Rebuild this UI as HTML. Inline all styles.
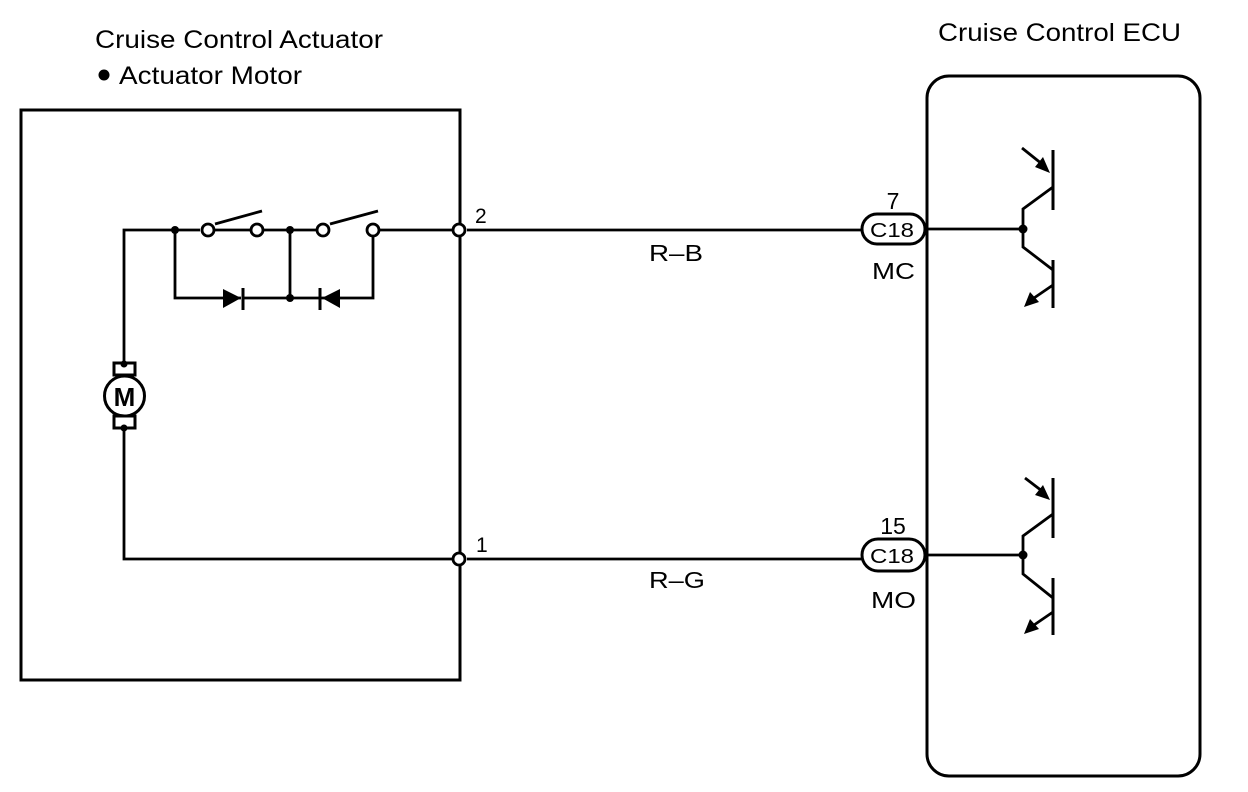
<!DOCTYPE html>
<html><head><style>
html,body{margin:0;padding:0;background:#fff;}
svg{display:block;}
text{font-family:"Liberation Sans",Arial,sans-serif;fill:#000;}
</style></head><body>
<svg width="1248" height="792" viewBox="0 0 1248 792" xmlns="http://www.w3.org/2000/svg">
<g stroke="#000" fill="none" stroke-width="3">
<rect x="21" y="110" width="439" height="570"/>
<rect x="927" y="76" width="273" height="700" rx="22" ry="22"/>
</g>
<g stroke="#000" fill="none" stroke-width="2.8">
<polyline points="124,364 124,230 175,230 200,230"/>
<line x1="215" y1="230" x2="250" y2="230"/>
<line x1="215" y1="224" x2="262" y2="211"/>
<line x1="264" y1="230" x2="316" y2="230"/>
<line x1="330" y1="224" x2="378" y2="211"/>
<line x1="380" y1="230" x2="452" y2="230"/>
<polyline points="175,230 175,298 241,298"/>
<line x1="243" y1="298" x2="322" y2="298"/>
<polyline points="290,230 290,298"/>
<polyline points="373,236 373,298 322,298"/>
<polyline points="124,428 124,559 452,559"/>
<line x1="467" y1="230" x2="862" y2="230"/>
<line x1="467" y1="559" x2="862" y2="559"/>
<line x1="928" y1="229" x2="1023" y2="229"/>
<line x1="928" y1="555" x2="1023" y2="555"/>
</g>
<g fill="#000">
<circle cx="175" cy="230" r="4"/>
<circle cx="290" cy="230" r="4"/>
<circle cx="290" cy="298" r="4"/>
<circle cx="1023" cy="229" r="4.5"/>
<circle cx="1023" cy="555" r="4.5"/>
<polygon points="223,289 223,308 241,298"/>
<line x1="243" y1="288" x2="243" y2="310" stroke="#000" stroke-width="3"/>
<polygon points="340,289 340,308 322,298"/>
<line x1="320" y1="288" x2="320" y2="310" stroke="#000" stroke-width="3"/>
</g>
<g fill="#fff" stroke="#000" stroke-width="2.8">
<circle cx="208" cy="230" r="6"/>
<circle cx="257" cy="230" r="6"/>
<circle cx="323" cy="230" r="6"/>
<circle cx="373" cy="230" r="6"/>
<circle cx="459" cy="230" r="6"/>
<circle cx="459" cy="559" r="6"/>
</g>
<g stroke="#000" stroke-width="3" fill="none">
<rect x="114" y="363" width="21" height="12"/>
<rect x="114" y="416" width="21" height="12"/>
<circle cx="124.5" cy="396" r="20" fill="#fff"/>
</g>
<circle cx="124" cy="364" r="3.5" fill="#000"/>
<circle cx="124" cy="428" r="3.5" fill="#000"/>
<text x="124.5" y="406" font-size="26" font-weight="bold" text-anchor="middle">M</text>
<g stroke="#000" stroke-width="3" fill="#fff">
<rect x="862" y="214" width="63" height="30" rx="15"/>
<rect x="862" y="539" width="63" height="32" rx="16"/>
</g>
<text x="870" y="237" font-size="20" textLength="44" lengthAdjust="spacingAndGlyphs">C18</text>
<text x="870" y="563" font-size="20" textLength="44" lengthAdjust="spacingAndGlyphs">C18</text>
<g stroke="#000" stroke-width="2.8" fill="none">
<line x1="1053" y1="150" x2="1053" y2="210" stroke-width="3"/>
<polyline points="1023,229 1023,209 1053,187"/>
<line x1="1053" y1="260" x2="1053" y2="308" stroke-width="3"/>
<polyline points="1023,229 1023,247 1053,270"/>
<line x1="1022" y1="148" x2="1042" y2="164"/>
<line x1="1053" y1="285" x2="1034" y2="298"/>
<line x1="1053" y1="478" x2="1053" y2="538" stroke-width="3"/>
<polyline points="1023,555 1023,536 1053,514"/>
<line x1="1053" y1="578" x2="1053" y2="635" stroke-width="3"/>
<polyline points="1023,555 1023,574 1053,598"/>
<line x1="1025" y1="478" x2="1042" y2="491"/>
<line x1="1053" y1="612" x2="1034" y2="625"/>
</g>
<g fill="#000">
<polygon points="1050,173 1035,167 1043,157"/>
<polygon points="1024,307 1030,292 1039,302"/>
<polygon points="1050,500 1035,495 1043,485"/>
<polygon points="1024,634 1030,619 1039,629"/>
</g>
<text x="95" y="48" font-size="25" textLength="288" lengthAdjust="spacingAndGlyphs">Cruise Control Actuator</text>
<circle cx="104" cy="75" r="5.5" fill="#000"/>
<text x="119" y="84" font-size="25" textLength="183" lengthAdjust="spacingAndGlyphs">Actuator Motor</text>
<text x="938" y="41" font-size="25" textLength="243" lengthAdjust="spacingAndGlyphs">Cruise Control ECU</text>
<text x="475" y="223" font-size="21">2</text>
<text x="476" y="552" font-size="21">1</text>
<text x="649" y="261" font-size="23" textLength="54" lengthAdjust="spacingAndGlyphs">R–B</text>
<text x="649" y="588" font-size="23" textLength="56" lengthAdjust="spacingAndGlyphs">R–G</text>
<text x="893" y="209" font-size="23" text-anchor="middle">7</text>
<text x="893" y="534" font-size="23" text-anchor="middle">15</text>
<text x="872" y="279" font-size="23" textLength="43" lengthAdjust="spacingAndGlyphs">MC</text>
<text x="871" y="608" font-size="23" textLength="45" lengthAdjust="spacingAndGlyphs">MO</text>
</svg>
</body></html>
